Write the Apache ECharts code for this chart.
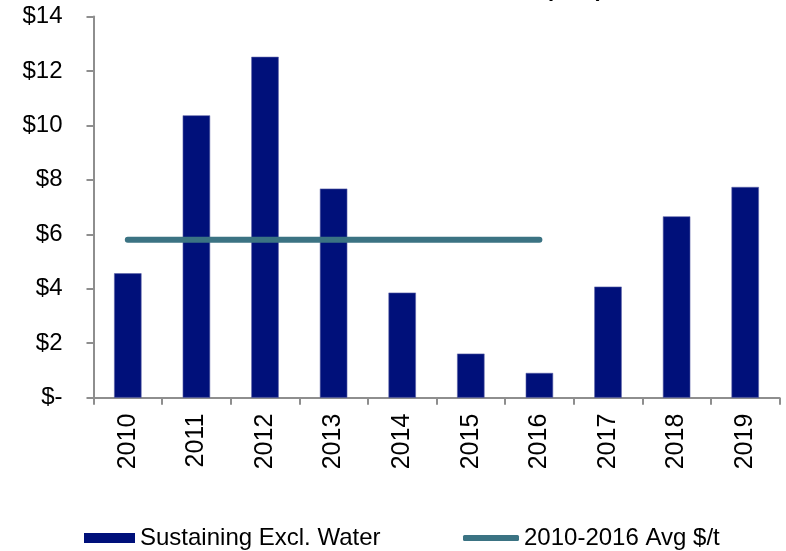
<!DOCTYPE html>
<html>
<head>
<meta charset="utf-8">
<script src="https://cdn.jsdelivr.net/npm/echarts@6/dist/echarts.min.js"></script>
<style>
  html, body { margin: 0; padding: 0; background: #fff; }
  #chart { width: 786px; height: 551px; }
</style>
</head>
<body>
<div id="chart"></div>
<script>
// Sustaining capital per tonne, with the 2010-2016 average
const years = ['2010', '2011', '2012', '2013', '2014', '2015', '2016', '2017', '2018', '2019'];
const sustainingExclWater = [4.57, 10.37, 12.52, 7.68, 3.86, 1.62, 0.91, 4.08, 6.66, 7.74];
const avg2010to2016 = [5.8, 5.8, 5.8, 5.8, 5.8, 5.8, 5.8, '-', '-', '-'];
const yTicks = { min: 0, max: 14, step: 2 };

const FONT = 'Liberation Sans, Arial, sans-serif';
const AXIS_GREY = '#8e8e8e';

const chart = echarts.init(document.getElementById('chart'), null, { renderer: 'canvas' });

chart.setOption({
  animation: false,
  backgroundColor: '#ffffff',
  textStyle: { fontFamily: FONT },
  graphic: [{
    type: 'text',
    right: 183,
    top: -21,
    style: {
      text: 'SUSTAINING CAPITAL (US$)',
      font: 'bold 22px ' + FONT,
      fill: '#000'
    }
  }],
  grid: { left: 93.5, right: 6.5, top: 16.5, bottom: 153.3 },
  legend: [
    {
      left: 79, top: 521,
      data: ['Sustaining Excl. Water'],
      icon: 'rect', itemWidth: 51, itemHeight: 10,
      itemStyle: { borderWidth: 0 },
      textStyle: { fontSize: 24, color: '#000', fontFamily: FONT }
    },
    {
      left: 458, top: 521,
      data: ['2010-2016 Avg $/t'],
      icon: 'roundRect', itemWidth: 56, itemHeight: 6,
      textStyle: { fontSize: 24, color: '#000', fontFamily: FONT }
    }
  ],
  xAxis: {
    type: 'category',
    data: years,
    boundaryGap: true,
    axisLine: { lineStyle: { color: AXIS_GREY, width: 2 } },
    axisTick: { show: true, alignWithLabel: false, length: 7, lineStyle: { color: AXIS_GREY, width: 2 } },
    axisLabel: { rotate: 90, margin: 16, fontSize: 25, color: '#000', fontFamily: FONT }
  },
  yAxis: {
    type: 'value',
    min: yTicks.min, max: yTicks.max, interval: yTicks.step,
    axisLine: { show: true, lineStyle: { color: AXIS_GREY, width: 2 } },
    axisTick: { show: true, length: 7, lineStyle: { color: AXIS_GREY, width: 2 } },
    splitLine: { show: false },
    axisLabel: {
      margin: 31, fontSize: 24, color: '#000', fontFamily: FONT,
      formatter: v => (v === 0 ? '$-' : '$' + v)
    }
  },
  series: [
    {
      name: 'Sustaining Excl. Water',
      type: 'bar',
      data: sustainingExclWater,
      barWidth: '40%',
      itemStyle: { color: '#00107a', borderColor: '#5c63a8', borderWidth: 0.6 }
    },
    {
      name: '2010-2016 Avg $/t',
      type: 'line',
      data: avg2010to2016,
      symbol: 'none',
      itemStyle: { color: '#3b7383' },
      lineStyle: { color: '#3b7383', width: 6, cap: 'round' },
      z: 3
    }
  ]
});
</script>
</body>
</html>
